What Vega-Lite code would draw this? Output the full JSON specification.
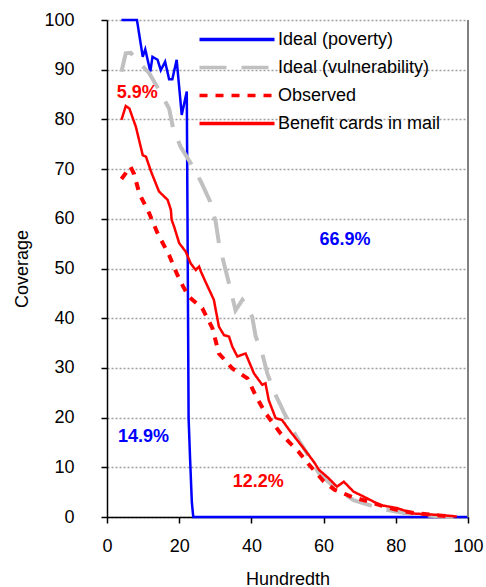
{
  "$schema": "https://vega.github.io/schema/vega-lite/v6.json",
  "autosize": {"type": "none"},
  "width": 361,
  "height": 497,
  "padding": {"left": 107, "top": 20, "right": 18, "bottom": 70},
  "config": {
    "view": {"stroke": null},
    "font": "Liberation Sans",
    "axis": {
      "labelFont": "Liberation Sans",
      "titleFont": "Liberation Sans",
      "labelFontSize": 18,
      "titleFontSize": 18,
      "titleFontWeight": "normal",
      "labelColor": "#000000",
      "titleColor": "#000000",
      "domainColor": "#000000",
      "domainWidth": 1.5,
      "tickColor": "#000000",
      "tickWidth": 1.5,
      "tickSize": 6,
      "labelFlush": false
    }
  },
  "datasets": {
    "lines": [
      {"series": "Ideal (poverty)", "x": 4, "y": 100},
      {"series": "Ideal (poverty)", "x": 8.3, "y": 100},
      {"series": "Ideal (poverty)", "x": 9.9, "y": 92.6},
      {"series": "Ideal (poverty)", "x": 10.6, "y": 94.1},
      {"series": "Ideal (poverty)", "x": 12, "y": 89.6},
      {"series": "Ideal (poverty)", "x": 12.6, "y": 92.6},
      {"series": "Ideal (poverty)", "x": 14, "y": 92},
      {"series": "Ideal (poverty)", "x": 14.9, "y": 89.9},
      {"series": "Ideal (poverty)", "x": 16.1, "y": 91.6},
      {"series": "Ideal (poverty)", "x": 17.2, "y": 88.1},
      {"series": "Ideal (poverty)", "x": 18.1, "y": 88.1},
      {"series": "Ideal (poverty)", "x": 19.3, "y": 92},
      {"series": "Ideal (poverty)", "x": 20.7, "y": 80.9},
      {"series": "Ideal (poverty)", "x": 22.1, "y": 85.6},
      {"series": "Ideal (poverty)", "x": 22.3, "y": 60},
      {"series": "Ideal (poverty)", "x": 22.6, "y": 20},
      {"series": "Ideal (poverty)", "x": 23.0, "y": 12},
      {"series": "Ideal (poverty)", "x": 23.5, "y": 3},
      {"series": "Ideal (poverty)", "x": 23.9, "y": 0},
      {"series": "Ideal (poverty)", "x": 100, "y": 0},

      {"series": "Ideal (vulnerability)", "x": 4, "y": 89.6},
      {"series": "Ideal (vulnerability)", "x": 5.2, "y": 93.3},
      {"series": "Ideal (vulnerability)", "x": 6.6, "y": 93.4},
      {"series": "Ideal (vulnerability)", "x": 8, "y": 92},
      {"series": "Ideal (vulnerability)", "x": 9.5, "y": 91},
      {"series": "Ideal (vulnerability)", "x": 11.7, "y": 89.3},
      {"series": "Ideal (vulnerability)", "x": 14.4, "y": 85.9},
      {"series": "Ideal (vulnerability)", "x": 17.2, "y": 82.2},
      {"series": "Ideal (vulnerability)", "x": 18.4, "y": 77.9},
      {"series": "Ideal (vulnerability)", "x": 20.4, "y": 74.5},
      {"series": "Ideal (vulnerability)", "x": 23.2, "y": 71.2},
      {"series": "Ideal (vulnerability)", "x": 26, "y": 67.5},
      {"series": "Ideal (vulnerability)", "x": 28.5, "y": 63.6},
      {"series": "Ideal (vulnerability)", "x": 30.1, "y": 59.4},
      {"series": "Ideal (vulnerability)", "x": 31, "y": 55.1},
      {"series": "Ideal (vulnerability)", "x": 32.4, "y": 51},
      {"series": "Ideal (vulnerability)", "x": 33.8, "y": 47},
      {"series": "Ideal (vulnerability)", "x": 35.6, "y": 41.6},
      {"series": "Ideal (vulnerability)", "x": 37.5, "y": 43.7},
      {"series": "Ideal (vulnerability)", "x": 38.9, "y": 42.3},
      {"series": "Ideal (vulnerability)", "x": 40.2, "y": 40.3},
      {"series": "Ideal (vulnerability)", "x": 41.2, "y": 36.3},
      {"series": "Ideal (vulnerability)", "x": 43, "y": 32.9},
      {"series": "Ideal (vulnerability)", "x": 44.4, "y": 28.9},
      {"series": "Ideal (vulnerability)", "x": 46.4, "y": 25},
      {"series": "Ideal (vulnerability)", "x": 48.9, "y": 21.2},
      {"series": "Ideal (vulnerability)", "x": 52.2, "y": 16.5},
      {"series": "Ideal (vulnerability)", "x": 55.4, "y": 12.8},
      {"series": "Ideal (vulnerability)", "x": 58.7, "y": 8.8},
      {"series": "Ideal (vulnerability)", "x": 62.8, "y": 6.1},
      {"series": "Ideal (vulnerability)", "x": 68.3, "y": 3.4},
      {"series": "Ideal (vulnerability)", "x": 75.7, "y": 1.7},
      {"series": "Ideal (vulnerability)", "x": 83, "y": 0.7},
      {"series": "Ideal (vulnerability)", "x": 92.3, "y": 0.1},
      {"series": "Ideal (vulnerability)", "x": 96, "y": 0},

      {"series": "Observed", "x": 4, "y": 68},
      {"series": "Observed", "x": 6.5, "y": 70.5},
      {"series": "Observed", "x": 7.5, "y": 69},
      {"series": "Observed", "x": 9, "y": 65},
      {"series": "Observed", "x": 11.7, "y": 61.1},
      {"series": "Observed", "x": 14, "y": 57.1},
      {"series": "Observed", "x": 17.2, "y": 52.7},
      {"series": "Observed", "x": 19.5, "y": 48.7},
      {"series": "Observed", "x": 21, "y": 46.5},
      {"series": "Observed", "x": 22.7, "y": 44.3},
      {"series": "Observed", "x": 26.4, "y": 42},
      {"series": "Observed", "x": 29.2, "y": 38},
      {"series": "Observed", "x": 31, "y": 32.9},
      {"series": "Observed", "x": 34.7, "y": 29.9},
      {"series": "Observed", "x": 38.9, "y": 27.9},
      {"series": "Observed", "x": 41.2, "y": 24.4},
      {"series": "Observed", "x": 43.9, "y": 20.9},
      {"series": "Observed", "x": 48.1, "y": 16.8},
      {"series": "Observed", "x": 53.1, "y": 13.1},
      {"series": "Observed", "x": 56, "y": 10.5},
      {"series": "Observed", "x": 60, "y": 7.2},
      {"series": "Observed", "x": 63, "y": 5.5},
      {"series": "Observed", "x": 68, "y": 4},
      {"series": "Observed", "x": 72, "y": 3.2},
      {"series": "Observed", "x": 76, "y": 2.3},
      {"series": "Observed", "x": 80, "y": 1.5},
      {"series": "Observed", "x": 85, "y": 0.8},
      {"series": "Observed", "x": 92, "y": 0.3},
      {"series": "Observed", "x": 96, "y": 0.1},

      {"series": "Benefit cards in mail", "x": 4, "y": 79.9},
      {"series": "Benefit cards in mail", "x": 5.2, "y": 82.7},
      {"series": "Benefit cards in mail", "x": 6.2, "y": 82.2},
      {"series": "Benefit cards in mail", "x": 8, "y": 78.5},
      {"series": "Benefit cards in mail", "x": 9.9, "y": 72.8},
      {"series": "Benefit cards in mail", "x": 10.8, "y": 72.5},
      {"series": "Benefit cards in mail", "x": 12.2, "y": 69.5},
      {"series": "Benefit cards in mail", "x": 14.4, "y": 65.5},
      {"series": "Benefit cards in mail", "x": 16.8, "y": 63.8},
      {"series": "Benefit cards in mail", "x": 17.7, "y": 61.8},
      {"series": "Benefit cards in mail", "x": 17.9, "y": 59.8},
      {"series": "Benefit cards in mail", "x": 18.6, "y": 58.4},
      {"series": "Benefit cards in mail", "x": 20, "y": 55.1},
      {"series": "Benefit cards in mail", "x": 21.8, "y": 53.4},
      {"series": "Benefit cards in mail", "x": 23.2, "y": 51},
      {"series": "Benefit cards in mail", "x": 24.6, "y": 49.7},
      {"series": "Benefit cards in mail", "x": 25.5, "y": 50.4},
      {"series": "Benefit cards in mail", "x": 26, "y": 49.4},
      {"series": "Benefit cards in mail", "x": 27.3, "y": 47.3},
      {"series": "Benefit cards in mail", "x": 29.6, "y": 43.7},
      {"series": "Benefit cards in mail", "x": 31, "y": 38.3},
      {"series": "Benefit cards in mail", "x": 32.4, "y": 36.6},
      {"series": "Benefit cards in mail", "x": 33.8, "y": 36.3},
      {"series": "Benefit cards in mail", "x": 34.7, "y": 34.3},
      {"series": "Benefit cards in mail", "x": 36.1, "y": 32.3},
      {"series": "Benefit cards in mail", "x": 38.4, "y": 32.9},
      {"series": "Benefit cards in mail", "x": 40.7, "y": 28.9},
      {"series": "Benefit cards in mail", "x": 43, "y": 26.6},
      {"series": "Benefit cards in mail", "x": 43.9, "y": 26.9},
      {"series": "Benefit cards in mail", "x": 44.8, "y": 23.5},
      {"series": "Benefit cards in mail", "x": 46.7, "y": 19.9},
      {"series": "Benefit cards in mail", "x": 48.5, "y": 19.5},
      {"series": "Benefit cards in mail", "x": 50.8, "y": 17.2},
      {"series": "Benefit cards in mail", "x": 54.5, "y": 13.8},
      {"series": "Benefit cards in mail", "x": 57.3, "y": 11.1},
      {"series": "Benefit cards in mail", "x": 58.7, "y": 9.5},
      {"series": "Benefit cards in mail", "x": 61.4, "y": 7.8},
      {"series": "Benefit cards in mail", "x": 63.7, "y": 6.1},
      {"series": "Benefit cards in mail", "x": 65.6, "y": 7.1},
      {"series": "Benefit cards in mail", "x": 68.3, "y": 5.1},
      {"series": "Benefit cards in mail", "x": 71.1, "y": 4.1},
      {"series": "Benefit cards in mail", "x": 75.7, "y": 2.4},
      {"series": "Benefit cards in mail", "x": 80.3, "y": 1.8},
      {"series": "Benefit cards in mail", "x": 84.9, "y": 0.7},
      {"series": "Benefit cards in mail", "x": 92.3, "y": 0.4},
      {"series": "Benefit cards in mail", "x": 96.9, "y": 0.1}
    ],
    "bluelabels": [{"label": "66.9%", "x": 65.9, "y": 55.7}, {"label": "14.9%", "x": 10.1, "y": 16.0}],
    "redlabels": [{"label": "5.9%", "x": 8.4, "y": 85.3}, {"label": "12.2%", "x": 41.9, "y": 7.1}],
    "border": [{"edge": "right"}]
  },
  "layer": [
    {
      "data": {"name": "lines"},
      "transform": [{"filter": "datum.series === 'Ideal (poverty)'"}],
      "mark": {"type": "line", "strokeWidth": 2.5},
      "encoding": {
        "x": {
          "field": "x", "type": "quantitative",
          "scale": {"domain": [0, 100], "nice": false},
          "axis": {"title": "Hundredth", "values": [0, 20, 40, 60, 80, 100], "grid": false, "labelPadding": 14, "titlePadding": 15}
        },
        "y": {
          "field": "y", "type": "quantitative",
          "scale": {"domain": [0, 100], "nice": false},
          "axis": {"title": "Coverage", "values": [0, 10, 20, 30, 40, 50, 60, 70, 80, 90, 100], "grid": true, "gridColor": "#A0A0A0", "gridDash": [2, 2], "gridWidth": 1.5, "labelPadding": 27, "titlePadding": 12}
        },
        "color": {"field": "series", "type": "nominal",
          "scale": {"domain": ["Ideal (poverty)", "Ideal (vulnerability)", "Observed", "Benefit cards in mail"], "range": ["#0000FF", "#C0C0C0", "#FF0000", "#FF0000"]},
          "legend": {"orient": "none", "legendX": 120.5, "legendY": 10, "title": null, "symbolType": "M-5,0H5", "symbolSize": 225, "symbolStrokeWidth": 3.5, "labelFontSize": 18, "labelFont": "Liberation Sans", "labelColor": "#000000", "labelOffset": 31.5, "labelLimit": 300, "rowPadding": 9, "padding": 0}},
        "strokeDash": {"field": "series", "type": "nominal",
          "scale": {"domain": ["Ideal (poverty)", "Ideal (vulnerability)", "Observed", "Benefit cards in mail"], "range": [[1, 0], [27, 15], [8, 8], [1, 0]]}}
      }
    },
    {
      "data": {"name": "lines"},
      "transform": [{"filter": "datum.series === 'Ideal (vulnerability)'"}],
      "mark": {"type": "line", "strokeWidth": 4},
      "encoding": {
        "x": {"field": "x", "type": "quantitative"},
        "y": {"field": "y", "type": "quantitative"},
        "color": {"field": "series", "type": "nominal"},
        "strokeDash": {"field": "series", "type": "nominal"}
      }
    },
    {
      "data": {"name": "lines"},
      "transform": [{"filter": "datum.series === 'Observed'"}],
      "mark": {"type": "line", "strokeWidth": 4},
      "encoding": {
        "x": {"field": "x", "type": "quantitative"},
        "y": {"field": "y", "type": "quantitative"},
        "color": {"field": "series", "type": "nominal"},
        "strokeDash": {"field": "series", "type": "nominal"}
      }
    },
    {
      "data": {"name": "lines"},
      "transform": [{"filter": "datum.series === 'Benefit cards in mail'"}],
      "mark": {"type": "line", "strokeWidth": 2.5},
      "encoding": {
        "x": {"field": "x", "type": "quantitative"},
        "y": {"field": "y", "type": "quantitative"},
        "color": {"field": "series", "type": "nominal"},
        "strokeDash": {"field": "series", "type": "nominal"}
      }
    },
    {
      "data": {"name": "border"},
      "mark": {"type": "rule", "color": "#808080", "strokeWidth": 2},
      "encoding": {
        "x": {"datum": 100, "type": "quantitative"}
      }
    },
    {
      "data": {"name": "bluelabels"},
      "mark": {"type": "text", "color": "#0000FF", "fontSize": 18, "fontWeight": "bold", "font": "Liberation Sans", "align": "center", "baseline": "middle"},
      "encoding": {
        "x": {"field": "x", "type": "quantitative"},
        "y": {"field": "y", "type": "quantitative"},
        "text": {"field": "label"}
      }
    },
    {
      "data": {"name": "redlabels"},
      "mark": {"type": "text", "color": "#FF0000", "fontSize": 18, "fontWeight": "bold", "font": "Liberation Sans", "align": "center", "baseline": "middle"},
      "encoding": {
        "x": {"field": "x", "type": "quantitative"},
        "y": {"field": "y", "type": "quantitative"},
        "text": {"field": "label"}
      }
    }
  ]
}
